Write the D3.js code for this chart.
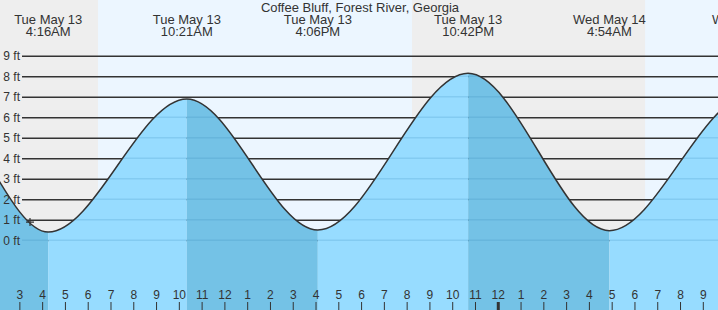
<!DOCTYPE html>
<html>
<head>
<meta charset="utf-8">
<script src="https://cdn.jsdelivr.net/npm/d3@7"></script>
<style>
body { margin: 0; background: #fff; }
text { font-family: "Liberation Sans", Arial, sans-serif; fill: #333; }
</style>
</head>
<body>
<div id="chart"></div>
<script>
// size of svg
var svgWidth = 718;
var svgHeight = 310;

var title = "Coffee Bluff, Forest River, Georgia";

// tide highs / lows (local time) and height in ft
var tideTimes = ["2025-05-12 16:50", "2025-05-12 23:15", "2025-05-13 04:16", "2025-05-13 10:21",
                 "2025-05-13 16:06", "2025-05-13 22:42", "2025-05-14 04:54", "2025-05-14 11:00",
                 "2025-05-14 17:30"];
var tideHeights = [0.5, 6.7, 0.40, 6.89, 0.50, 8.14, 0.47, 7.0, 0.6];
var tideTypes = ["L", "H", "L", "H", "L", "H", "L", "H", "L"];

// sun
var sunrises = ["2025-05-13 06:27", "2025-05-14 06:28"];
var sunsets = ["2025-05-13 20:14"];

// height gridlines
var ftTicks = [0, 1, 2, 3, 4, 5, 6, 7, 8, 9];

// current time marker
var nowTime = "2025-05-13 03:28";
var nowHeight = 0.89;

var parseTime = d3.timeParse("%Y-%m-%d %H:%M");
var startTime = parseTime("2025-05-13 02:09");
var endTime = parseTime("2025-05-14 09:40");

var tide = tideTimes.map((t, i) => ({ time: parseTime(t), height: tideHeights[i], type: tideTypes[i] }));

var svg = d3.select("#chart")
  .append("svg")
  .attr("width", svgWidth)
  .attr("height", svgHeight);

// scales
var x = d3.scaleTime()
  .domain([startTime, endTime])
  .range([0, svgWidth]);

var y = d3.scaleLinear()
  .domain([0, 9])
  .range([240.3, 55.7]);

// day / night background
svg.append("rect")
  .attr("width", svgWidth)
  .attr("height", svgHeight)
  .attr("fill", "#ecf6ff");

var nights = [[startTime, parseTime(sunrises[0])], [parseTime(sunsets[0]), parseTime(sunrises[1])]];
svg.selectAll(".night")
  .data(nights)
  .enter()
  .append("rect")
  .attr("class", "night")
  .attr("x", d => x(d[0]))
  .attr("width", d => x(d[1]) - x(d[0]))
  .attr("y", 0)
  .attr("height", svgHeight)
  .attr("fill", "#eeeeee");

// gridlines
var leftAxis = d3.axisLeft(y)
  .tickValues(ftTicks)
  .tickSize(-(svgWidth - 22))
  .tickPadding(2)
  .tickFormat(d => d + " ft");

var gridGroup = svg.append("g")
  .attr("transform", "translate(22,0)")
  .call(leftAxis);
gridGroup.select(".domain").remove();
gridGroup.selectAll("text").remove();
gridGroup.selectAll("line").attr("stroke", "#333").attr("stroke-width", 1.4);

// water
var area = d3.area()
  .x(d => x(d.time))
  .y0(svgHeight)
  .y1(d => y(d.height))
  .curve(d3.curveMonotoneX);

var line = d3.line()
  .x(d => x(d.time))
  .y(d => y(d.height))
  .curve(d3.curveMonotoneX);

svg.append("clipPath")
  .attr("id", "water")
  .append("path")
  .attr("d", area(tide));

var waterGroup = svg.append("g").attr("clip-path", "url(#water)");

// rising = light, falling = dark
var segments = d3.pairs(tide);
waterGroup.selectAll("rect")
  .data(segments)
  .enter()
  .append("rect")
  .attr("x", d => x(d[0].time))
  .attr("width", d => x(d[1].time) - x(d[0].time))
  .attr("y", 0)
  .attr("height", svgHeight)
  .attr("fill", d => d[0].type == "H" ? "#74c2e6" : "#97dcff");

// faint gridlines in the water
waterGroup.selectAll("line")
  .data(ftTicks)
  .enter()
  .append("line")
  .attr("x1", 22)
  .attr("x2", svgWidth)
  .attr("y1", d => y(d))
  .attr("y2", d => y(d))
  .attr("stroke", "#2a7fb0")
  .attr("stroke-opacity", 0.18)
  .attr("stroke-width", 1.4);

svg.append("path")
  .attr("d", line(tide))
  .attr("fill", "none")
  .attr("stroke", "#333")
  .attr("stroke-width", 1.5);

// ft labels on top of everything
var labelGroup = svg.append("g")
  .attr("transform", "translate(22,0)")
  .call(leftAxis);
labelGroup.select(".domain").remove();
labelGroup.selectAll("line").remove();
labelGroup.selectAll("text").style("font-size", "12px").attr("fill", "#333");

// current time marker
var nx = x(parseTime(nowTime)), ny = y(nowHeight);
svg.append("path")
  .attr("d", `M${nx - 4},${ny}H${nx + 4}M${nx},${ny - 4}V${ny + 4}`)
  .attr("stroke", "#333")
  .attr("stroke-width", 1.2);

// hour axis along the bottom
var bottomAxis = d3.axisTop(x)
  .ticks(d3.timeHour.every(1))
  .tickSize(8)
  .tickPadding(3)
  .tickFormat(d3.timeFormat("%-I"));

var hourGroup = svg.append("g")
  .attr("transform", `translate(0, ${svgHeight})`)
  .call(bottomAxis);
hourGroup.select(".domain").remove();
hourGroup.selectAll("line")
  .attr("stroke", "#333")
  .attr("stroke-width", d => d.getHours() == 0 ? 3 : 1);
hourGroup.selectAll("text").style("font-size", "12px").attr("fill", "#333");

// title and high/low labels
svg.append("text")
  .attr("x", 360)
  .attr("y", 12)
  .attr("text-anchor", "middle")
  .style("font-size", "13px")
  .text(title);

var dayFormat = d3.timeFormat("%a %b %-d");
var clockFormat = d3.timeFormat("%-I:%M%p");

// only label the highs/lows that reach into the window
var shown = tide.filter(d => x(d.time) > 0 && x(d.time) < svgWidth + 40);

var labels = svg.selectAll(".evt")
  .data(shown)
  .enter()
  .append("g")
  .attr("class", "evt")
  .attr("transform", d => `translate(${x(d.time)},0)`);

labels.append("text")
  .attr("y", 24)
  .attr("text-anchor", "middle")
  .style("font-size", "13px")
  .text(d => dayFormat(d.time));

labels.append("text")
  .attr("y", 36)
  .attr("text-anchor", "middle")
  .style("font-size", "13px")
  .text(d => clockFormat(d.time));
</script>
</body>
</html>
